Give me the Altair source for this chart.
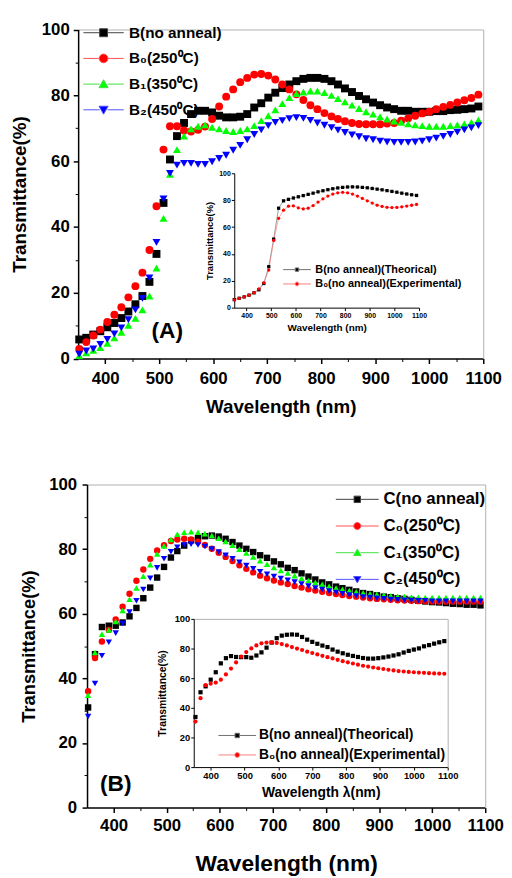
import altair as alt
import pandas as pd

FONT = "Liberation Sans"
W, H = 496, 862

# ---------------- data ----------------
wavelength = [352, 365, 378, 391, 404, 417, 430, 443, 456, 469,
              482, 495, 508, 520, 533, 546, 559, 572, 585, 598,
              611, 624, 637, 650, 663, 676, 689, 702, 715, 728,
              741, 754, 767, 780, 793, 806, 819, 831, 844, 857,
              870, 883, 896, 909, 922, 935, 948, 961, 974, 987,
              1000, 1013, 1026, 1039, 1052, 1065, 1078, 1091]

series_a = ["B(no anneal)", "B\u2080(250\u2070C)", "B\u2081(350\u2070C)", "B\u2082(450\u2070C)"]
a_none = [5.8, 6.3, 7.3, 8.3, 9.5, 10.8, 12.3, 14.3, 16.5, 19.0,
          23.3, 31.8, 47.3, 60.5, 67.6, 71.6, 74.3, 75.3, 75.3, 74.8,
          73.8, 73.3, 73.3, 73.5, 74.3, 76.3, 77.6, 79.3, 80.8, 82.2,
          83.3, 84.3, 85.0, 85.3, 85.3, 85.0, 84.3, 83.3, 82.1, 81.0,
          79.8, 78.8, 77.8, 77.0, 76.3, 75.8, 75.3, 75.3, 75.0, 75.0,
          75.0, 75.2, 75.2, 75.5, 75.6, 75.8, 76.0, 76.6]
a_250 = [2.9, 5.0, 7.0, 8.8, 11.1, 13.3, 15.6, 18.6, 22.0, 26.1,
         33.0, 46.3, 63.5, 70.6, 70.6, 69.3, 69.0, 69.5, 70.5, 72.8,
         76.6, 79.6, 81.8, 84.0, 85.3, 86.3, 86.5, 86.0, 84.8, 83.3,
         81.8, 80.3, 78.6, 77.0, 75.8, 74.6, 73.6, 72.8, 72.1, 71.6,
         71.3, 71.2, 71.2, 71.2, 71.4, 71.6, 72.3, 73.0, 73.8, 74.5,
         75.0, 75.8, 76.5, 77.1, 77.8, 78.5, 79.2, 80.2]
a_350 = [0.9, 1.7, 2.5, 3.3, 4.6, 6.3, 8.0, 10.1, 12.2, 14.8,
         19.0, 27.5, 42.6, 56.0, 63.5, 67.6, 69.8, 70.6, 71.0, 70.3,
         69.8, 69.3, 69.0, 69.3, 69.8, 70.8, 72.3, 73.8, 75.6, 77.5,
         79.3, 80.5, 81.0, 81.3, 81.3, 80.8, 80.0, 79.0, 78.0, 77.0,
         76.0, 75.0, 74.3, 73.5, 72.8, 72.2, 71.8, 71.3, 71.0, 70.8,
         70.6, 70.6, 70.6, 70.8, 71.0, 71.3, 71.8, 72.5]
a_450 = [1.3, 2.3, 2.9, 4.3, 5.8, 7.5, 9.3, 11.8, 14.8, 18.3,
         24.5, 35.3, 48.5, 56.3, 58.8, 59.3, 59.3, 59.0, 59.0, 59.8,
         60.8, 61.8, 63.3, 64.8, 66.5, 68.1, 69.5, 70.8, 71.8, 72.3,
         72.9, 73.2, 73.0, 72.4, 71.6, 70.9, 70.2, 69.4, 68.7, 68.0,
         67.4, 66.8, 66.5, 66.1, 65.8, 65.7, 65.7, 65.7, 65.8, 66.1,
         66.5, 67.0, 67.5, 68.1, 68.8, 69.5, 70.1, 70.8]

series_b = ["C(no anneal)", "C\u2080(250\u2070C)", "C\u2081(350\u2070C)", "C\u2082(450\u2070C)"]
b_none = [31.0, 47.5, 55.9, 56.3, 56.3, 57.3, 59.2, 61.8, 64.8, 68.1,
          71.2, 74.5, 77.4, 79.4, 81.1, 82.7, 83.4, 84.0, 84.2, 83.9,
          83.2, 82.2, 81.1, 80.1, 79.1, 78.1, 77.3, 76.2, 75.3, 74.2,
          73.5, 72.5, 71.5, 70.6, 69.7, 69.1, 68.4, 67.9, 67.4, 66.9,
          66.4, 66.1, 65.7, 65.3, 65.1, 64.8, 64.6, 64.3, 64.0, 63.8,
          63.6, 63.5, 63.3, 63.1, 63.0, 62.8, 62.8, 62.6]
b_250 = [36.0, 46.3, 51.4, 55.0, 58.2, 62.2, 66.2, 70.2, 73.7, 77.0,
         79.6, 81.2, 82.5, 83.0, 83.2, 83.0, 82.3, 81.3, 80.1, 78.9,
         77.6, 76.3, 75.0, 73.9, 72.8, 71.8, 71.0, 70.3, 69.7, 69.2,
         68.6, 68.1, 67.6, 67.2, 66.8, 66.4, 66.1, 65.8, 65.5, 65.3,
         65.0, 64.8, 64.6, 64.5, 64.3, 64.2, 64.1, 64.0, 63.9, 63.9,
         63.8, 63.8, 63.8, 63.8, 63.8, 63.8, 63.8, 63.8]
b_350 = [34.8, 48.0, 53.7, 55.0, 57.6, 61.0, 64.5, 68.0, 71.6, 75.2,
         78.5, 81.0, 83.0, 84.6, 85.2, 85.4, 85.2, 84.8, 84.2, 83.4,
         82.4, 81.2, 80.0, 78.8, 77.6, 76.4, 75.3, 74.3, 73.4, 72.6,
         71.8, 71.0, 70.3, 69.7, 69.1, 68.5, 68.0, 67.6, 67.2, 66.8,
         66.5, 66.2, 66.0, 65.8, 65.6, 65.4, 65.3, 65.2, 65.1, 65.0,
         65.0, 65.0, 65.0, 65.0, 65.0, 65.0, 65.0, 65.0]
b_450 = [28.2, 38.4, 47.0, 51.2, 54.0, 57.0, 60.5, 64.0, 67.5, 71.0,
         74.2, 77.0, 79.2, 80.6, 81.3, 81.5, 81.3, 80.8, 80.0, 79.1,
         78.1, 77.0, 75.9, 74.9, 73.9, 73.0, 72.2, 71.5, 70.9, 70.4,
         69.8, 69.2, 68.6, 68.0, 67.5, 67.0, 66.6, 66.2, 65.8, 65.5,
         65.2, 65.0, 64.8, 64.6, 64.4, 64.3, 64.2, 64.1, 64.0, 64.0,
         63.9, 63.9, 63.9, 63.9, 63.9, 63.9, 63.9, 63.9]

inset_series = ["B(no anneal)(Theorical)", "B\u2080(no anneal)(Experimental)"]
ia_wl = [350, 370, 390, 410, 430, 450, 470, 490, 510, 530,
         550, 570, 590, 610, 630, 650, 670, 690, 710, 730,
         750, 770, 790, 810, 830, 850, 870, 890, 910, 930,
         950, 970, 990, 1010, 1030, 1050, 1070, 1090]
ia_theo = [6.0, 7.0, 8.0, 9.3, 11.0, 13.3, 18.0, 30.5, 51.0, 74.0,
           79.5, 80.6, 81.6, 82.5, 83.4, 84.3, 85.2, 86.2, 87.0, 87.8,
           88.5, 89.1, 89.5, 89.8, 89.9, 89.8, 89.5, 89.2, 88.7, 88.2,
           87.7, 87.1, 86.5, 85.9, 85.2, 84.6, 84.0, 83.5]
ia_exp = [5.8, 6.9, 8.0, 9.3, 11.2, 14.0, 18.5, 28.0, 50.0, 66.5,
          72.5, 75.5, 75.8, 74.3, 73.5, 74.0, 76.0, 78.6, 81.0, 83.0,
          84.5, 85.5, 85.8, 85.5, 84.5, 83.0, 81.3, 79.5, 77.8, 76.3,
          75.3, 74.7, 74.5, 74.6, 75.0, 75.6, 76.2, 76.8]

ib_wl = [355, 370, 385, 400, 415, 430, 445, 460, 475, 490,
         505, 520, 535, 550, 565, 580, 595, 610, 625, 640,
         655, 670, 685, 700, 715, 730, 745, 760, 775, 790,
         805, 820, 835, 850, 865, 880, 895, 910, 925, 940,
         955, 970, 985, 1000, 1015, 1030, 1045, 1060, 1075, 1090]
ib_theo = [33.8, 50.5, 54.5, 59.0, 64.0, 70.0, 73.5, 74.9, 74.3, 74.2,
           74.2, 73.8, 75.3, 77.4, 80.6, 84.0, 87.0, 88.7, 89.3, 89.5,
           89.3, 87.8, 86.0, 84.5, 83.2, 82.0, 81.0, 79.3, 77.9, 76.8,
           75.8, 75.0, 74.3, 73.6, 73.2, 73.2, 73.5, 74.0, 74.6, 75.3,
           76.1, 77.3, 78.4, 79.3, 80.1, 81.5, 82.3, 83.3, 84.2, 85.0]
ib_exp = [30.7, 46.5, 55.3, 56.3, 57.0, 59.0, 62.5, 66.5, 70.6, 74.5,
          77.6, 80.1, 82.1, 83.5, 84.0, 84.1, 83.8, 83.0, 82.1, 81.0,
          80.0, 79.0, 77.9, 77.0, 76.0, 75.1, 74.2, 73.3, 72.4, 71.5,
          70.7, 69.9, 69.1, 68.4, 67.8, 67.2, 66.7, 66.2, 65.7, 65.2,
          64.8, 64.5, 64.2, 64.0, 63.8, 63.6, 63.4, 63.2, 63.1, 63.0]

panel_labels = ["(A)", "(B)"]
panel_label_wl = [515, 404]
panel_label_t = [8.3, 7.3]

x_ticks = [400, 500, 600, 700, 800, 900, 1000, 1100]
x_minor = [450, 550, 650, 750, 850, 950, 1050]
y_ticks = [0, 20, 40, 60, 80, 100]
y_minor = [10, 30, 50, 70, 90]

# ---------------- styles / layout ----------------
colors = ["#000000", "#ff0000", "#00ff00", "#0000ff"]
line_colors = ["#404040", "#ff5050", "#40e040", "#5050ff"]
shapes = ["square", "circle", "triangle-up", "triangle-down"]
inset_colors = ["#000000", "#ff0000"]
inset_line_colors = ["#707070", "#ff8080"]

A_X, A_Y = [71, 481], [349.5, 16.5]
B_X, B_Y = [80, 483], [804, 477]
IA_X, IA_Y = [229, 416], [298, 162]
IB_X, IB_Y = [188, 445], [763, 613]
XD, YD = [350, 1100], [0, 100]


def legend_paths(L, kinds):
    seg = f"M{-L},0H-1M1,0H{L}"
    p = {
        "square": seg + "M-1,-1H1V1H-1Z",
        "circle": seg + "M1.1,0A1.1,1.1,0,1,1,-1.1,0A1.1,1.1,0,1,1,1.1,0Z",
        "triangle-up": seg + "M0,-1.1L1.15,0.9H-1.15Z",
        "triangle-down": seg + "M0,1.1L1.15,-0.9H-1.15Z",
    }
    return [p[k] for k in kinds]


def long_df(x, names, values):
    rows = []
    for name, vals in zip(names, values):
        for xv, yv in zip(x, vals):
            rows.append({"wl": xv, "t": yv, "s": name})
    return pd.DataFrame(rows)


def sc(domain, rng):
    return alt.Scale(domain=domain, range=rng, nice=False, zero=False)


def axis(**kw):
    base = dict(grid=False, labelFont=FONT, titleFont=FONT, labelFontWeight="bold",
                titleFontWeight="bold", labelColor="black", titleColor="black",
                tickColor="black", domainColor="black", format="d",
                labelFlush=False, labelOverlap=False)
    base.update(kw)
    return alt.Axis(**base)


def frame_axis(orient, offset):
    return alt.Axis(orient=orient, offset=offset, grid=False, ticks=False, labels=False,
                    title=None, domainColor="#b0b0b0", domainWidth=1)


def minor_axis(orient, offset, values, size):
    return alt.Axis(orient=orient, offset=offset, values=values, grid=False, labels=False,
                    domain=False, title=None, ticks=True, tickSize=size, tickColor="black",
                    tickWidth=1)


def legend(x, y, fs, ss, rp, lo):
    return alt.Legend(orient="none", legendX=x, legendY=y, title=None, labelFont=FONT,
                      labelFontSize=fs, labelFontWeight="bold", labelColor="black",
                      labelLimit=600, symbolSize=ss, symbolStrokeWidth=1, rowPadding=rp,
                      labelOffset=lo, padding=0)


def legend_layer(names, fills, strokes, paths, leg, xs=None, ys=None, xa=None, ya=None):
    enc = dict(
        fill=alt.Fill("s:N", scale=alt.Scale(domain=names, range=fills), legend=leg),
        stroke=alt.Stroke("s:N", scale=alt.Scale(domain=names, range=strokes), legend=leg),
        shape=alt.Shape("s:N", scale=alt.Scale(domain=names, range=paths), legend=leg),
    )
    if xs is not None:
        enc["x"] = alt.X("wl:Q", scale=xs, axis=xa)
        enc["y"] = alt.Y("t:Q", scale=ys, axis=ya)
    return (alt.Chart(pd.DataFrame({"s": names, "wl": [350] * len(names), "t": [0] * len(names)}))
            .transform_filter("false")
            .mark_point(filled=True, opacity=1, strokeWidth=1)
            .encode(**enc))


def main_panel(X, Y, names, values, size, lab_fs, title_fs_x, title_fs_y,
               lab_pad_x, lab_pad_y, tpad_x, tpad_y, label_idx, txt_fs,
               leg, leg_paths):
    df = long_df(wavelength, names, values)
    pts = alt.Chart(df).mark_point(filled=True, size=size, opacity=1, strokeWidth=0).encode(
        x=alt.X("wl:Q", scale=sc(XD, X), axis=axis(
            orient="bottom", offset=Y[0] - H, values=x_ticks, labelFontSize=lab_fs,
            tickSize=5, tickWidth=1.5, domainWidth=1.5, labelPadding=lab_pad_x,
            title="Wavelength (nm)", titleFontSize=title_fs_x, titlePadding=tpad_x)),
        y=alt.Y("t:Q", scale=sc(YD, Y), axis=axis(
            orient="left", offset=-X[0], values=y_ticks, labelFontSize=lab_fs,
            tickSize=5, tickWidth=1.5, domainWidth=1.5, labelPadding=lab_pad_y,
            title="Transmittance(%)", titleFontSize=title_fs_y, titlePadding=tpad_y)),
        fill=alt.Fill("s:N", scale=alt.Scale(domain=names, range=colors), legend=None),
        shape=alt.Shape("s:N", scale=alt.Scale(domain=names, range=shapes), legend=None),
    )
    tdf = pd.DataFrame({"wl": [panel_label_wl[label_idx]], "t": [panel_label_t[label_idx]],
                        "lab": [panel_labels[label_idx]]})
    txt = alt.Chart(tdf).mark_text(font=FONT, fontWeight="bold", fontSize=txt_fs,
                                   align="center", baseline="middle", color="black").encode(
        x=alt.X("wl:Q", scale=sc(XD, X), axis=minor_axis("bottom", Y[0] - H, x_minor, 3)),
        y=alt.Y("t:Q", scale=sc(YD, Y), axis=minor_axis("left", -X[0], y_minor, 3)),
        text="lab:N",
    )
    lg = legend_layer(names, colors, line_colors, leg_paths, leg,
                      xs=sc(XD, X), ys=sc(YD, Y),
                      xa=frame_axis("top", -Y[1]), ya=frame_axis("right", X[1] - W))
    return [pts, txt, lg]


def inset(X, Y, xs_vals, theo, exp, size, lab_fs, tfs_x, tfs_y, tpad_x, tpad_y,
          xtitle, leg, leg_paths, lines, frame):
    df = long_df(xs_vals, inset_series, [theo, exp])
    layers = []
    if lines:
        layers.append(alt.Chart(df).mark_line(strokeWidth=0.7).encode(
            x=alt.X("wl:Q", scale=sc(XD, X), axis=None),
            y=alt.Y("t:Q", scale=sc(YD, Y), axis=None),
            stroke=alt.Stroke("s:N", scale=alt.Scale(domain=inset_series, range=inset_line_colors),
                              legend=None),
        ))
    layers.append(alt.Chart(df).mark_point(filled=True, size=size, opacity=1, strokeWidth=0).encode(
        x=alt.X("wl:Q", scale=sc(XD, X), axis=axis(
            orient="bottom", offset=Y[0] - H, values=x_ticks, labelFontSize=lab_fs,
            tickSize=3, tickWidth=1, domainWidth=1, labelPadding=0.5,
            title=xtitle, titleFontSize=tfs_x, titlePadding=tpad_x)),
        y=alt.Y("t:Q", scale=sc(YD, Y), axis=axis(
            orient="left", offset=-X[0], values=y_ticks, labelFontSize=lab_fs,
            tickSize=3, tickWidth=1, domainWidth=1, labelPadding=1,
            title="Transmittance(%)", titleFontSize=tfs_y, titlePadding=tpad_y)),
        fill=alt.Fill("s:N", scale=alt.Scale(domain=inset_series, range=inset_colors), legend=None),
        shape=alt.Shape("s:N", scale=alt.Scale(domain=inset_series, range=["square", "circle"]),
                        legend=None),
    ))
    if frame:
        layers.append(legend_layer(inset_series, inset_colors, inset_line_colors, leg_paths, leg,
                                   xs=sc(XD, X), ys=sc(YD, Y),
                                   xa=frame_axis("top", -Y[1]), ya=frame_axis("right", X[1] - W)))
    else:
        layers.append(legend_layer(inset_series, inset_colors, inset_line_colors, leg_paths, leg))
    return layers


layers = []
layers += main_panel(A_X, A_Y, series_a, [a_none, a_250, a_350, a_450], 64, 17, 19, 19,
                     7, 4, 11.5, 12, 0, 23,
                     legend(89, 12, 15.5, 64, 9, 18), legend_paths(5.1, shapes))
layers += inset(IA_X, IA_Y, ia_wl, ia_theo, ia_exp, 11, 7, 10, 9.5, 5, 4.6,
                "Wavelength (nm)", legend(287, 254, 11, 12, 2.5, 13),
                legend_paths(8.1, ["square", "circle"]), True, False)
layers += main_panel(B_X, B_Y, series_b, [b_none, b_250, b_350, b_450], 42, 17, 23, 18.5,
                     5.5, 5.5, 19, 10, 1, 23,
                     legend(345, 483.5, 17, 42, 9, 18), legend_paths(6.7, shapes))
layers += inset(IB_X, IB_Y, ib_wl, ib_theo, ib_exp, 18, 9.5, 14, 10.5, 6, 7,
                "Wavelength \u03bb(nm)", legend(225, 724, 14, 20, 5.7, 15),
                legend_paths(8.5, ["square", "circle"]), False, True)

chart = (alt.layer(*layers)
         .resolve_scale(x="independent", y="independent", fill="independent",
                        stroke="independent", shape="independent")
         .properties(width=W, height=H, padding=0, background="white")
         .configure_view(stroke=None))

chart.save("out.html", embed_options={"renderer": "svg", "actions": False})
